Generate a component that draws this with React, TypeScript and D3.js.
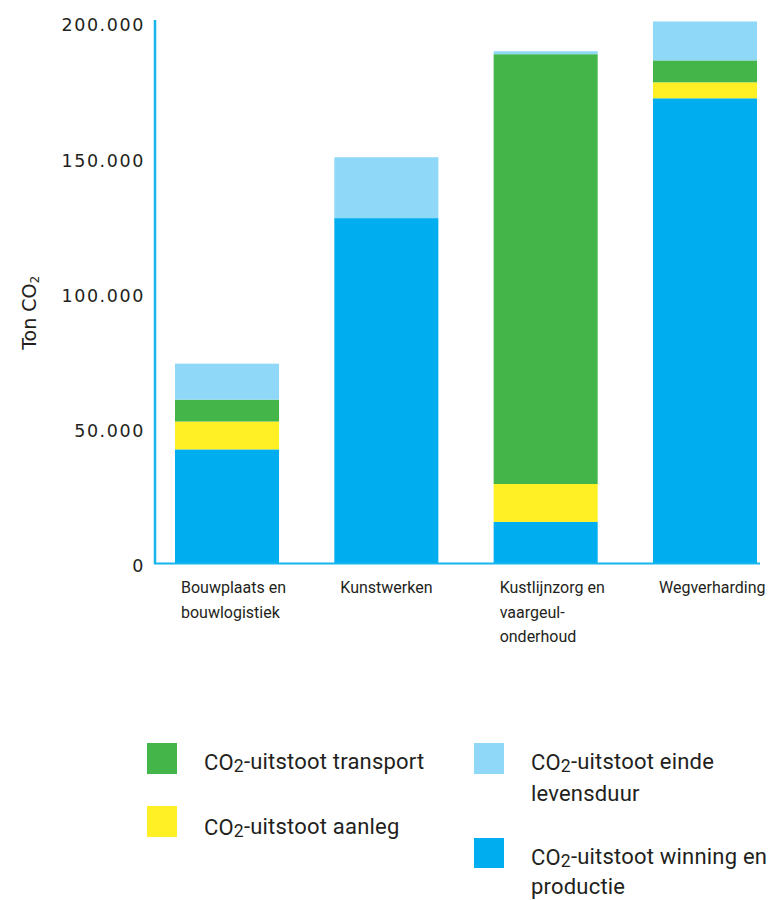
import React from 'react';
import * as d3 from 'd3';

// ------- Data -------
const categories = ['Bouwplaats en bouwlogistiek', 'Kunstwerken', 'Kustlijnzorg en vaargeul-onderhoud', 'Wegverharding'];
const categoryLines = [
  ['Bouwplaats en', 'bouwlogistiek'],
  ['Kunstwerken'],
  ['Kustlijnzorg en', 'vaargeul-', 'onderhoud'],
  ['Wegverharding'],
];
const winning = [42000, 127500, 15200, 171800];
const aanleg = [10300, 0, 14000, 5900];
const transport = [8100, 0, 158900, 8100];
const einde = [13300, 22500, 1100, 14400];
const yTicks = [0, 50000, 100000, 150000, 200000];

const seriesKeys = ['winning', 'aanleg', 'transport', 'einde'];
const seriesColors: Record<string, string> = {
  winning: '#00AEEF',
  aanleg: '#FFF026',
  transport: '#44B649',
  einde: '#8FD8F7',
};

const TEXT = '#231F20';
const AXIS = '#16B5EE';
const headFont = '"DejaVu Sans", sans-serif';
const textFont = 'Roboto, "Noto Sans", sans-serif';

const fmt = d3.formatLocale({ decimal: ',', thousands: '.', grouping: [3], currency: ['', ''] }).format(',');

const Co2 = ({ after }: { after: string }) => (
  <>
    CO<tspan fontSize="0.8em" dy="0.13em">2</tspan>
    <tspan dy="-0.13em">{after}</tspan>
  </>
);

export default function App() {
  const width = 773;
  const height = 900;

  const rows = categories.map((c, i) => ({
    cat: c,
    winning: winning[i],
    aanleg: aanleg[i],
    transport: transport[i],
    einde: einde[i],
  }));
  const stacked = d3.stack<any>().keys(seriesKeys)(rows);

  const x = d3.scaleBand<string>().domain(categories).range([155, 777]).paddingInner(0.347).paddingOuter(0.1255);
  const y = d3.scaleLinear().domain([0, 200000]).range([563, 22]);

  return (
    <svg width={width} height={height} style={{ position: 'absolute', left: 0, top: 0, background: '#fff' }}>
      {/* bars */}
      {stacked.map((s) => (
        <g key={s.key} fill={seriesColors[s.key]}>
          {s.map((d, i) =>
            d[1] - d[0] > 0 ? (
              <rect
                key={i}
                x={x(categories[i])}
                y={y(d[1])}
                width={x.bandwidth()}
                height={y(d[0]) - y(d[1])}
              />
            ) : null
          )}
        </g>
      ))}

      {/* axes */}
      <line x1={155} x2={155} y1={y(200000) - 2} y2={y(0) + 1} stroke={AXIS} strokeWidth={2.5} />
      <line x1={154} x2={x(categories[3])! + x.bandwidth() + 3} y1={y(0) + 0.5} y2={y(0) + 0.5} stroke={AXIS} strokeWidth={2} />

      {/* y ticks */}
      {yTicks.map((t) => (
        <text
          key={t}
          x={145}
          y={y(t) + 3}
          dy="0.36em"
          textAnchor="end"
          fontFamily={headFont}
          fontSize={17.5}
          letterSpacing={1.6}
          fill={TEXT}
        >
          {fmt(t)}
        </text>
      ))}

      {/* y title */}
      <text
        transform={`translate(36, ${y(92500)}) rotate(-90)`}
        textAnchor="middle"
        fontFamily={headFont}
        fontSize={19}
        fill={TEXT}
      >
        Ton CO<tspan fontSize="0.65em" dy="0.25em">2</tspan>
      </text>

      {/* category labels */}
      {categoryLines.map((lines, i) => (
        <text key={i} fontFamily={textFont} fontSize={16} fill={TEXT}>
          {lines.map((l, j) => (
            <tspan key={j} x={x(categories[i])! + 6} y={593 + j * 24.5}>
              {l}
            </tspan>
          ))}
        </text>
      ))}

      {/* legend */}
      <g fontFamily={textFont} fontSize={22} letterSpacing={0.2} fill={TEXT}>
        <rect x={147} y={743} width={30} height={31} fill={seriesColors.transport} />
        <text x={204} y={770}>
          <Co2 after="-uitstoot transport" />
        </text>
        <rect x={147} y={806} width={30} height={31} fill={seriesColors.aanleg} />
        <text x={204} y={835}>
          <Co2 after="-uitstoot aanleg" />
        </text>
        <rect x={474} y={743} width={30} height={31} fill={seriesColors.einde} />
        <text x={531} y={770}>
          <Co2 after="-uitstoot einde" />
        </text>
        <text x={531} y={801}>levensduur</text>
        <rect x={474} y={838} width={30} height={30} fill={seriesColors.winning} />
        <text x={531} y={865}>
          <Co2 after="-uitstoot winning en" />
        </text>
        <text x={531} y={894}>productie</text>
      </g>
    </svg>
  );
}
